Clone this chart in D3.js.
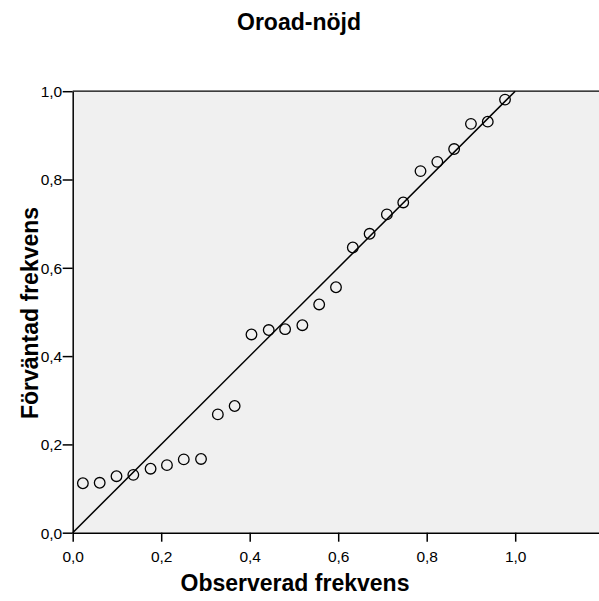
<!DOCTYPE html>
<html>
<head>
<meta charset="utf-8">
<script src="https://cdn.jsdelivr.net/npm/d3@7"></script>
<style>
  body { margin: 0; background: #fff; }
  text { font-family: "Liberation Sans", Arial, sans-serif; fill: #000; }
</style>
</head>
<body>
<svg width="599" height="601"></svg>
<script>
const observed = [0.023, 0.061, 0.099, 0.137, 0.176, 0.213, 0.251, 0.290, 0.328, 0.366,
  0.404, 0.443, 0.480, 0.519, 0.557, 0.595, 0.633, 0.671, 0.710, 0.747,
  0.786, 0.824, 0.862, 0.900, 0.938, 0.977];
const expected = [0.112, 0.113, 0.128, 0.131, 0.145, 0.153, 0.166, 0.167, 0.268, 0.287,
  0.449, 0.459, 0.461, 0.470, 0.517, 0.556, 0.646, 0.677, 0.721, 0.748,
  0.819, 0.840, 0.869, 0.926, 0.931, 0.981];
const tickValues = [0, 0.2, 0.4, 0.6, 0.8, 1.0];

const data = observed.map((x, i) => ({ x: x, y: expected[i] }));

const svg = d3.select('svg');
const fmt = d => d3.format('.1f')(d).replace('.', ',');

const xScale = d3.scaleLinear().domain([0, 1.2]).range([72.7, 603.7]);
const yScale = d3.scaleLinear().domain([0, 1]).range([532.7, 91.2]);

// plot background
svg.append('rect')
  .attr('x', xScale(0))
  .attr('y', yScale(1))
  .attr('width', 599 - xScale(0))
  .attr('height', yScale(0) - yScale(1))
  .attr('fill', '#f0f0f0');

// top border
svg.append('line')
  .attr('x1', xScale(0)).attr('x2', 599)
  .attr('y1', yScale(1)).attr('y2', yScale(1))
  .attr('stroke', '#000').attr('stroke-width', 1.3);

const xAxis = d3.axisBottom(xScale).tickValues(tickValues).tickFormat(fmt).tickSize(9).tickSizeOuter(0);
const yAxis = d3.axisLeft(yScale).tickValues(tickValues).tickFormat(fmt).tickSize(10).tickSizeOuter(0);

const gx = svg.append('g')
  .attr('transform', `translate(0,${yScale(0)})`)
  .call(xAxis);
const gy = svg.append('g')
  .attr('transform', `translate(${xScale(0)},0)`)
  .call(yAxis);

[gx, gy].forEach(g => {
  g.select('.domain').attr('stroke', '#000').attr('stroke-width', 1.5);
  g.selectAll('.tick line').attr('stroke', '#000').attr('stroke-width', 1.5);
  g.selectAll('.tick text')
    .attr('font-size', 15.5)
    .attr('font-family', '"Liberation Sans", Arial, sans-serif')
    .attr('fill', '#000');
});
gx.selectAll('.tick text').attr('dy', 0).attr('y', 29);
gy.selectAll('.tick text').attr('x', -10.5).attr('dy', '0.35em');

// reference line
svg.append('line')
  .attr('x1', xScale(0)).attr('y1', yScale(0))
  .attr('x2', xScale(1)).attr('y2', yScale(1))
  .attr('stroke', '#000').attr('stroke-width', 1.5);

svg.append('g').selectAll('circle')
  .data(data)
  .enter()
  .append('circle')
  .attr('cx', d => xScale(d.x))
  .attr('cy', d => yScale(d.y))
  .attr('r', 5.3)
  .attr('fill', 'none')
  .attr('stroke', '#000')
  .attr('stroke-width', 1.3);

svg.append('text')
  .attr('x', 299).attr('y', 30)
  .attr('text-anchor', 'middle')
  .attr('font-size', 23).attr('font-weight', 'bold')
  .text('Oroad-nöjd');

svg.append('text')
  .attr('x', 295).attr('y', 591)
  .attr('text-anchor', 'middle')
  .attr('font-size', 23).attr('font-weight', 'bold')
  .text('Observerad frekvens');

svg.append('text')
  .attr('transform', 'translate(38,313) rotate(-90)')
  .attr('text-anchor', 'middle')
  .attr('font-size', 23).attr('font-weight', 'bold')
  .text('Förväntad frekvens');
</script>
</body>
</html>
